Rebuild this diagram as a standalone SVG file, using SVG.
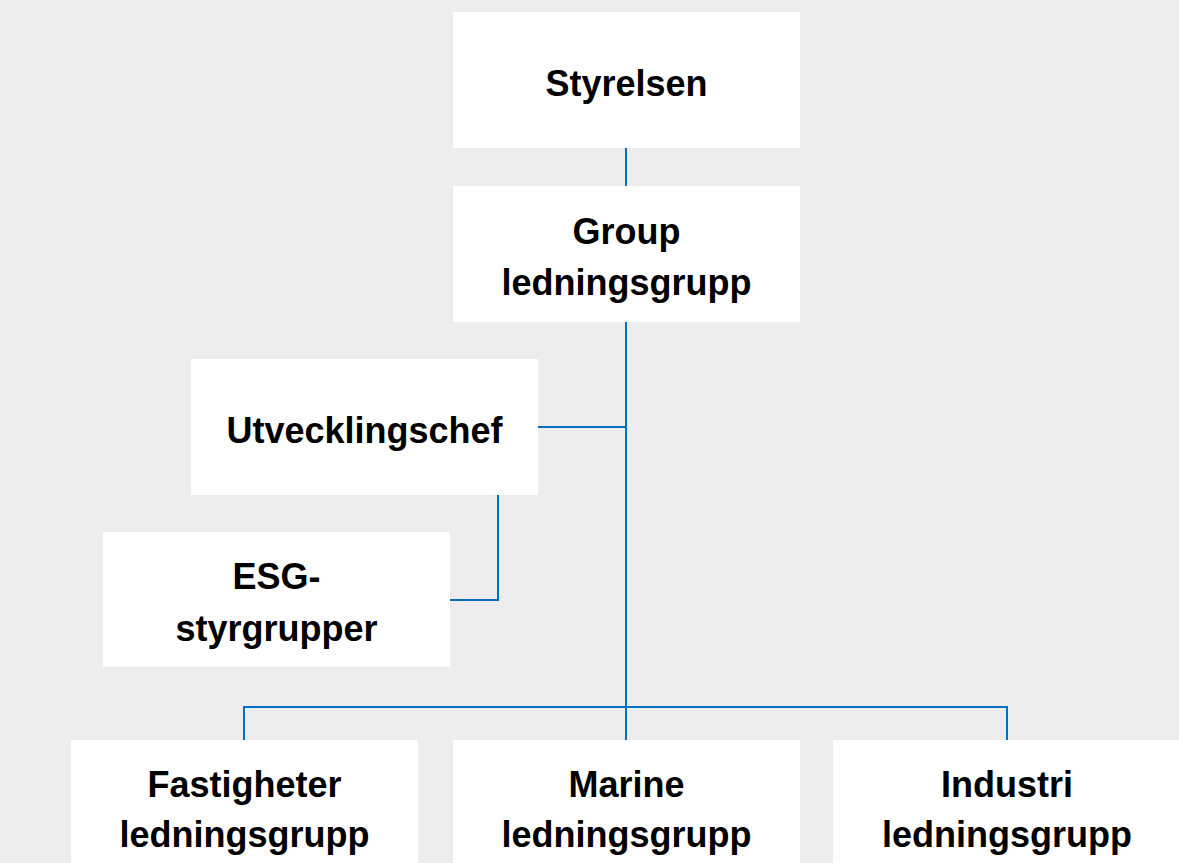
<svg xmlns="http://www.w3.org/2000/svg" width="1179" height="863" viewBox="0 0 1179 863">
  <style>
    .box { fill: #ffffff; }
    .lbl { font-family: "Liberation Sans", Arial, sans-serif; font-weight: bold; font-size: 36px; fill: #000000; text-anchor: middle; }
    .conn { fill: none; stroke: #0070c0; stroke-width: 2; }
  </style>
  <rect x="0" y="0" width="1179" height="863" fill="#ededed"/>
  <g id="connectors">
    <line class="conn" x1="626" y1="148" x2="626" y2="186"/>
    <line class="conn" x1="626" y1="321" x2="626" y2="740"/>
    <line class="conn" x1="538" y1="427" x2="626" y2="427"/>
    <polyline class="conn" points="498,495 498,600 450,600"/>
    <polyline class="conn" points="244,740 244,707 1007,707 1007,740"/>
  </g>
  <g id="styrelsen">
    <rect class="box" x="453" y="12" width="347" height="136"/>
    <text class="lbl" x="626.5" y="96">Styrelsen</text>
  </g>
  <g id="group-ledningsgrupp">
    <rect class="box" x="453" y="186" width="347" height="136"/>
    <text class="lbl" x="626.5" y="244">Group</text>
    <text class="lbl" x="626.5" y="295">ledningsgrupp</text>
  </g>
  <g id="utvecklingschef">
    <rect class="box" x="191" y="359" width="347" height="136"/>
    <text class="lbl" x="364.5" y="443">Utvecklingschef</text>
  </g>
  <g id="esg-styrgrupper">
    <rect class="box" x="103" y="532" width="347" height="135"/>
    <text class="lbl" x="276.5" y="589">ESG-</text>
    <text class="lbl" x="276.5" y="641">styrgrupper</text>
  </g>
  <g id="fastigheter">
    <rect class="box" x="71" y="740" width="347" height="130"/>
    <text class="lbl" x="244.5" y="797">Fastigheter</text>
    <text class="lbl" x="244.5" y="847">ledningsgrupp</text>
  </g>
  <g id="marine">
    <rect class="box" x="453" y="740" width="347" height="130"/>
    <text class="lbl" x="626.5" y="797">Marine</text>
    <text class="lbl" x="626.5" y="847">ledningsgrupp</text>
  </g>
  <g id="industri">
    <rect class="box" x="833" y="740" width="348" height="130"/>
    <text class="lbl" x="1007" y="797">Industri</text>
    <text class="lbl" x="1007" y="847">ledningsgrupp</text>
  </g>
</svg>
